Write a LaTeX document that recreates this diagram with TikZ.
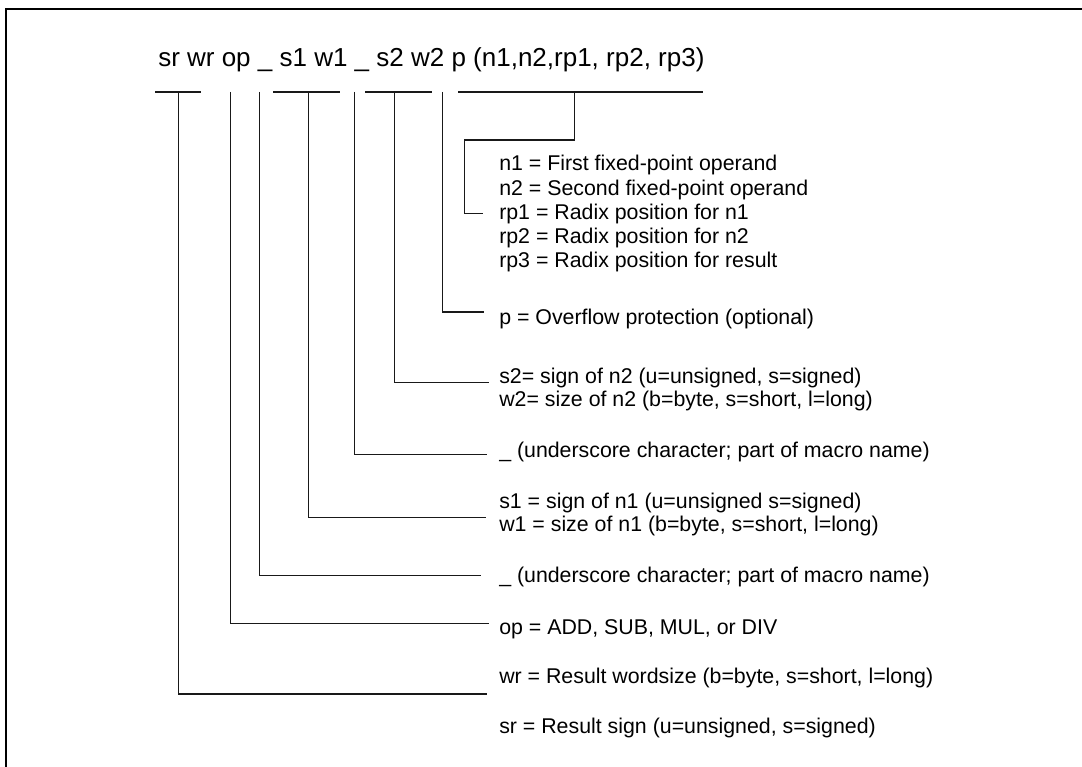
\documentclass[tikz,border=0pt]{standalone}
\usepackage{fontspec}
\setmainfont{Liberation Sans}
\begin{document}
\begin{tikzpicture}[x=0.75pt,y=-0.75pt,
  lead/.style={line width=0.8pt, black!90},
  frameline/.style={line width=1.3pt, black},
  lbl/.style={anchor=base west, inner sep=0pt, font=\fontsize{16}{19}\selectfont},
  ttl/.style={anchor=base west, inner sep=0pt, font=\fontsize{19.5}{23}\selectfont}]
\useasboundingbox (0,0) rectangle (1082,767);
\clip (0,0) rectangle (1082,767);

% open frame: top and left edges
\draw[frameline] (1090,9) -- (6,9) -- (6,775);

% macro name
\node[ttl] (title) at (158,67) {sr wr op \_ s1 w1 \_ s2 w2 p (n1,n2,rp1, rp2, rp3)};

% underline bars below the macro name
\coordinate (bar-r-a) at (155,92);   \coordinate (bar-r-b) at (200.7,92);
\coordinate (bar-1-a) at (273,92);   \coordinate (bar-1-b) at (339.7,92);
\coordinate (bar-2-a) at (365,92);   \coordinate (bar-2-b) at (431.7,92);
\coordinate (bar-n-a) at (458.3,92); \coordinate (bar-n-b) at (703,92);
\draw[lead] (bar-r-a) -- (bar-r-b);
\draw[lead] (bar-1-a) -- (bar-1-b);
\draw[lead] (bar-2-a) -- (bar-2-b);
\draw[lead] (bar-n-a) -- (bar-n-b);

% tap points on the bars
\coordinate (tap-r)  at (178.3,92);
\coordinate (tap-op) at (230.3,92);
\coordinate (tap-u1) at (259.3,92);
\coordinate (tap-1)  at (308.3,92);
\coordinate (tap-u2) at (354.3,92);
\coordinate (tap-2)  at (394.3,92);
\coordinate (tap-p)  at (442.3,92);
\coordinate (tap-n)  at (574.3,92);

% descriptions
\node[lbl] (n1)  at (499,171) {n1 = First fixed-point operand};
\node[lbl] (n2)  at (499,195) {n2 = Second fixed-point operand};
\node[lbl] (rp1) at (499,219) {rp1 = Radix position for n1};
\node[lbl] (rp2) at (499,243) {rp2 = Radix position for n2};
\node[lbl] (rp3) at (499,267) {rp3 = Radix position for result};
\node[lbl] (p)   at (499,324) {p = Overflow protection (optional)};
\node[lbl] (s2)  at (499,383) {s2= sign of n2 (u=unsigned, s=signed)};
\node[lbl] (w2)  at (499,406) {w2= size of n2 (b=byte, s=short, l=long)};
\node[lbl] (u2)  at (499,457) {\_ (underscore character; part of macro name)};
\node[lbl] (s1)  at (499,508) {s1 = sign of n1 (u=unsigned s=signed)};
\node[lbl] (w1)  at (499,531) {w1 = size of n1 (b=byte, s=short, l=long)};
\node[lbl] (u1)  at (499,582) {\_ (underscore character; part of macro name)};
\node[lbl] (op)  at (499,634) {op = ADD, SUB, MUL, or DIV};
\node[lbl] (wr)  at (499,683) {wr = Result wordsize (b=byte, s=short, l=long)};
\node[lbl] (sr)  at (499,733) {sr = Result sign (u=unsigned, s=signed)};

% leader ends beside the descriptions
\coordinate (end-rp1) at (483.3,213.3);
\coordinate (end-p)   at (483.7,312);
\coordinate (end-2)   at (489,382.3);
\coordinate (end-u2)  at (486.7,454.3);
\coordinate (end-1)   at (486,517.3);
\coordinate (end-u1)  at (480.7,575.3);
\coordinate (end-op)  at (489,623.3);
\coordinate (end-r)   at (486.7,694);
\coordinate (knee-n)  at (464.3,140);

% leaders
\draw[lead] (tap-n) |- (knee-n) |- (end-rp1);
\draw[lead] (tap-p)  |- (end-p);
\draw[lead] (tap-2)  |- (end-2);
\draw[lead] (tap-u2) |- (end-u2);
\draw[lead] (tap-1)  |- (end-1);
\draw[lead] (tap-u1) |- (end-u1);
\draw[lead] (tap-op) |- (end-op);
\draw[lead] (tap-r)  |- (end-r);
\end{tikzpicture}
\end{document}
